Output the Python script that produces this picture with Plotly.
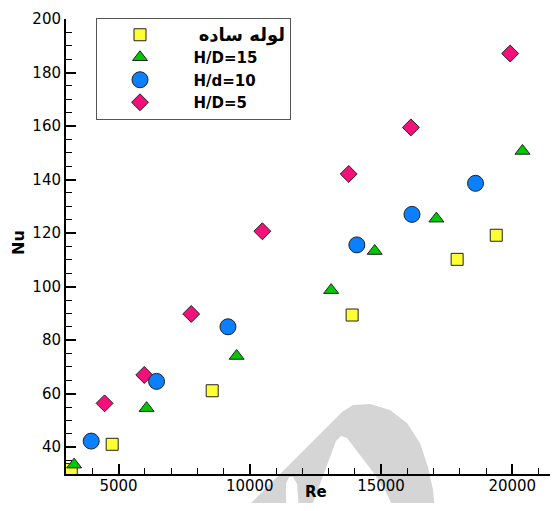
import plotly.graph_objects as go

# ---- data ----
re_plain = [3200, 4760, 8570, 13900, 17900, 19390, 21630]
nu_plain = [31.7, 41.1, 61.1, 89.4, 110.2, 119.2, 126.6]

re_h15 = [3310, 6070, 9500, 13100, 14760, 17110, 20390]
nu_h15 = [33.5, 54.6, 74.1, 98.7, 113.3, 125.4, 150.7]

re_h10 = [3960, 6450, 9170, 14080, 16180, 18600]
nu_h10 = [42.3, 64.6, 85.0, 115.6, 127.0, 138.6]

re_h5 = [4470, 5980, 7770, 10480, 13770, 16140, 19920]
nu_h5 = [56.4, 67.0, 89.8, 120.7, 142.1, 159.5, 187.1]

names = ["لوله ساده", "H/D=15", "H/d=10", "H/D=5"]
x_tickvals = [5000, 10000, 15000, 20000]
x_ticktext = ["5000", "10000", "15000", "20000"]
y_tickvals = [40, 60, 80, 100, 120, 140, 160, 180, 200]
y_ticktext = ["40", "60", "80", "100", "120", "140", "160", "180", "200"]

# page body has an 8px margin: keep the page exactly the window size (no scrollbars)
OFF = 8
SW, SH = 558, 511
W, H = SW - 2 * OFF, SH - 2 * OFF
# plot area in screen pixels
PL, PR, PT, PB = 66, SW - OFF, 19, 474
ML, MR, MT, MB = PL - OFF, 0, PT - OFF, (SH - OFF) - PB

fig = go.Figure()

outline = dict(color="#222222", width=1)
NB = "\u00a0"
labels = [
    NB * 3 + '<span style="font-size:18px">' + names[0] + "</span>",
    NB * 2 + names[1],
    NB * 2 + names[2],
    NB * 2 + names[3],
]
# draw order: squares, triangles, diamonds, circles (circles on top)
fig.add_trace(go.Scatter(x=re_plain, y=nu_plain, mode="markers", name=f"<b>{labels[0]}</b>", legendrank=1,
                         cliponaxis=False,
                         marker=dict(symbol="square", size=12, color="#FFFF33", line=outline)))
fig.add_trace(go.Scatter(x=re_h15, y=nu_h15, mode="markers", name=f"<b>{labels[1]}</b>", legendrank=2,
                         marker=dict(symbol="triangle-up", size=13, color="#00C800", line=outline)))
fig.add_trace(go.Scatter(x=re_h5, y=nu_h5, mode="markers", name=f"<b>{labels[3]}</b>", legendrank=4,
                         marker=dict(symbol="diamond", size=13, color="#F2117B", line=outline)))
fig.add_trace(go.Scatter(x=re_h10, y=nu_h10, mode="markers", name=f"<b>{labels[2]}</b>", legendrank=3,
                         marker=dict(symbol="circle", size=16, color="#0A80FF", line=outline)))

# ---- screen pixel -> paper helpers ----
def px(x):
    return (x - PL) / (PR - PL)

def py(y):
    return (PB - y) / (PB - PT)

def path(pts):
    return "M " + " L ".join(f"{px(a):.4f},{py(b):.4f}" for a, b in pts) + " Z"

# watermark (light gray letter shape)
outer = [(243, 511), (342, 412), (353, 405), (370, 404), (390, 410), (407, 423),
         (420, 443), (428, 467), (433, 490), (435, 511)]
notch = [(286, 511), (286, 484), (289, 477), (293, 477), (297, 484), (299, 511)]
counter = [(310, 511), (336, 441), (341, 436), (347, 438), (360, 455), (373, 472),
           (385, 490), (395, 511)]
fig.add_shape(type="path", xref="paper", yref="paper", path=path(outer),
              fillcolor="#D5D5D5", line=dict(width=0), layer="below")
for p in (notch, counter):
    fig.add_shape(type="path", xref="paper", yref="paper", path=path(p),
                  fillcolor="white", line=dict(width=0), layer="below")

font_tick = dict(family="DejaVu Sans", size=15, color="black")

x_right = 5000 + (PR - 119) / 131.1 * 5000
fig.update_xaxes(range=[3000, x_right], tickvals=x_tickvals, ticktext=x_ticktext,
                 ticks="inside", ticklen=10, tickwidth=2, ticklabelstandoff=-3,
                 tickcolor="black", showline=True, linewidth=2, linecolor="black",
                 showgrid=False, zeroline=False, tickfont=font_tick, automargin=False,
                 minor=dict(dtick=1000, tick0=0, ticks="inside", ticklen=6, tickwidth=1,
                            tickcolor="black", showgrid=False))
fig.update_yaxes(range=[30, 200], tickvals=y_tickvals, ticktext=y_ticktext,
                 ticks="inside", ticklen=10, tickwidth=2,
                 tickcolor="black", showline=True, linewidth=2, linecolor="black",
                 showgrid=False, zeroline=False, tickfont=font_tick, automargin=False,
                 minor=dict(dtick=5, tick0=0, ticks="inside", ticklen=6, tickwidth=1,
                            tickcolor="black", showgrid=False))

fig.add_annotation(text="<b>Re</b>", xref="paper", yref="paper", x=px(316), y=py(492),
                   showarrow=False, font=dict(family="DejaVu Sans", size=15, color="black"),
                   xanchor="center", yanchor="middle")
fig.add_annotation(text="<b>Nu</b>", xref="paper", yref="paper", x=px(18), y=py(243),
                   showarrow=False, textangle=-90,
                   font=dict(family="DejaVu Sans", size=16, color="black"),
                   xanchor="center", yanchor="middle")

fig.update_layout(
    width=W, height=H,
    margin=dict(l=ML, r=MR, t=MT, b=MB, pad=0, autoexpand=False),
    plot_bgcolor="white", paper_bgcolor="white",
    showlegend=True,
    legend=dict(x=px(96), y=py(17.5), xanchor="left", yanchor="top",
                bgcolor="white", bordercolor="#555555", borderwidth=1,
                font=dict(family="DejaVu Sans", size=15, color="black"),
                itemwidth=76, tracegroupgap=0),
    font=dict(family="DejaVu Sans"),
)

fig.write_html("out.html")
